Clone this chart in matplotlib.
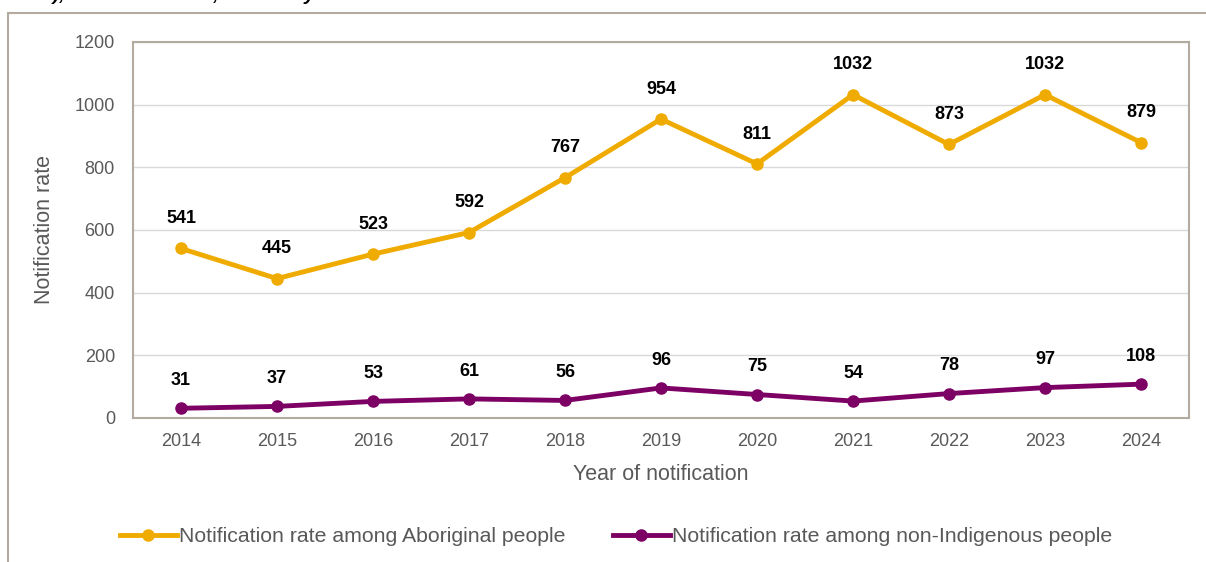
import matplotlib
matplotlib.use("Agg")
import matplotlib.pyplot as plt
from matplotlib.patches import Rectangle

years = ["2014", "2015", "2016", "2017", "2018", "2019", "2020", "2021", "2022", "2023", "2024"]
aboriginal = [541, 445, 523, 592, 767, 954, 811, 1032, 873, 1032, 879]
non_indigenous = [31, 37, 53, 61, 56, 96, 75, 54, 78, 97, 108]
yticks = [0, 200, 400, 600, 800, 1000, 1200]

plt.rcParams['font.family'] = ['Liberation Sans', 'DejaVu Sans']

W, H = 1206, 562
fig = plt.figure(figsize=(W / 100, H / 100), dpi=100)
frame_col = "#B3AAA0"
fig.patches.append(Rectangle((8 / W, -0.1), 1.2, 1 - 13 / H + 0.1, transform=fig.transFigure,
                             fill=False, edgecolor=frame_col, linewidth=1.5, zorder=0))
fig.text(5 / W, 1 + 5 / H, "State), South Australia, 1 January 2014 to 31 December 2024",
         fontsize=14, fontweight='bold', fontstyle='italic', color='black', va='center', ha='left')

ax = fig.add_axes([133 / W, 1 - 418 / H, (1189 - 133) / W, (418 - 42) / H])
x = list(range(len(years)))
orange = "#F0AB00"
purple = "#7D0064"
ax.plot(x, aboriginal, color=orange, lw=3.5, marker='o', ms=8, label="Notification rate among Aboriginal people", zorder=3)
ax.plot(x, non_indigenous, color=purple, lw=3.5, marker='o', ms=8, label="Notification rate among non-Indigenous people", zorder=3)
for xi, v in zip(x, aboriginal):
    ax.annotate(str(v), (xi, v), xytext=(0, 21.5), textcoords='offset points', ha='center', va='center',
                fontsize=13, fontweight='bold', color='black')
for xi, v in zip(x, non_indigenous):
    ax.annotate(str(v), (xi, v), xytext=(0, 20), textcoords='offset points', ha='center', va='center',
                fontsize=13, fontweight='bold', color='black')

ax.set_xlim(-0.5, len(years) - 0.5)
ax.set_ylim(0, 1200)
ax.set_yticks(yticks)
ax.set_xticks(x)
ax.set_xticklabels(years)
ax.yaxis.grid(True, color="#D9D9D9", lw=1)
ax.set_axisbelow(True)
ax.tick_params(length=0, labelsize=13, labelcolor="#595959")
ax.tick_params(axis='y', pad=13)
ax.tick_params(axis='x', pad=11)
for s in ax.spines.values():
    s.set_color(frame_col)
    s.set_linewidth(1.5)
ax.set_xlabel("Year of notification", fontsize=15.5, color="#595959", labelpad=10)
ax.set_ylabel("Notification rate", fontsize=15.5, color="#595959", labelpad=14)

leg = fig.legend(loc='center', bbox_to_anchor=(616 / W, 1 - 537 / H), ncol=2, frameon=False,
                 fontsize=15.3, labelcolor="#595959", handlelength=2.7, handletextpad=0.1, columnspacing=2.2)
fig.savefig("out.png", dpi=100)
